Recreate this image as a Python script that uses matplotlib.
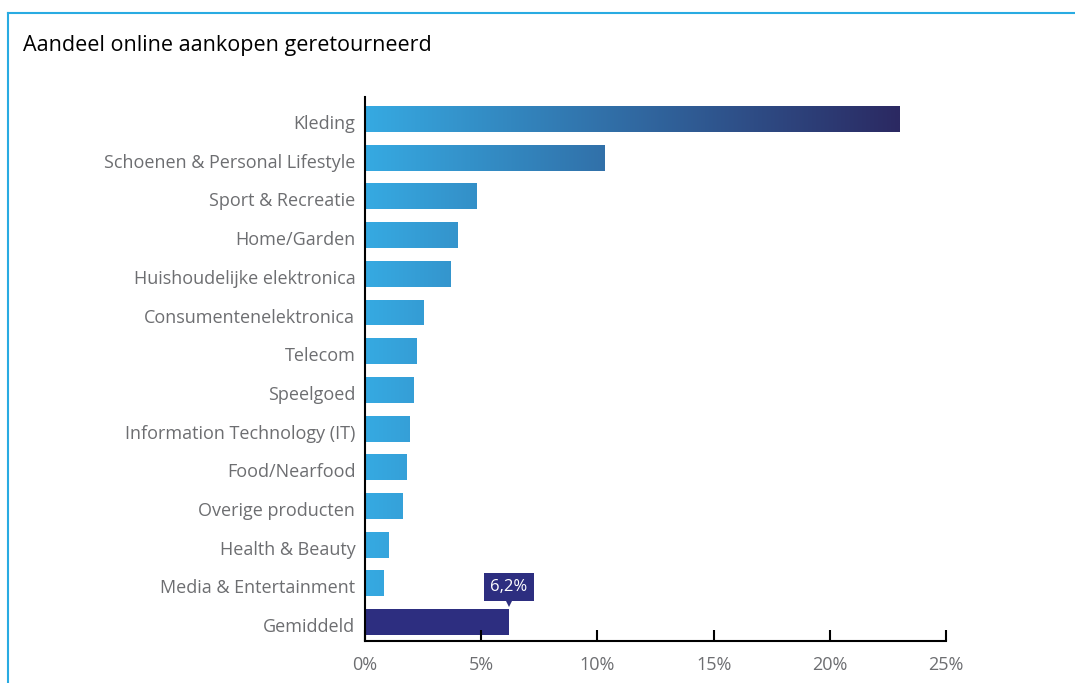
import matplotlib
matplotlib.use('Agg')
import matplotlib.pyplot as plt
import matplotlib.transforms as mtransforms
import numpy as np
from matplotlib.colors import LinearSegmentedColormap
from matplotlib.lines import Line2D

plt.rcParams['font.family'] = ['Open Sans', 'DejaVu Sans']

categories = [
    'Kleding',
    'Schoenen & Personal Lifestyle',
    'Sport & Recreatie',
    'Home/Garden',
    'Huishoudelijke elektronica',
    'Consumentenelektronica',
    'Telecom',
    'Speelgoed',
    'Information Technology (IT)',
    'Food/Nearfood',
    'Overige producten',
    'Health & Beauty',
    'Media & Entertainment',
    'Gemiddeld',
]
values = [23.0, 10.3, 4.8, 4.0, 3.7, 2.5, 2.2, 2.1, 1.9, 1.8, 1.6, 1.0, 0.8, 6.2]
average_label = '6,2%'
xticks = [0, 5, 10, 15, 20, 25]
xtick_labels = ['0%', '5%', '10%', '15%', '20%', '25%']

LABEL_GREY = '#6d6e71'
NAVY = '#2d2e80'
FRAME_BLUE = '#29abe2'

grad_cmap = LinearSegmentedColormap.from_list('blue_navy', ['#36aae2', '#2b2962'])

fig = plt.figure(figsize=(10.75, 6.83), dpi=100)
W, H = 1075, 683
ax = fig.add_axes([365 / W, 1 - 641 / H, (946 - 365) / W, (641 - 97) / H])

y = np.arange(len(categories))
bars = ax.barh(y, values, height=0.67, color='none', edgecolor='none')

# gradient runs along the x axis, from 0 to the longest bar
grad_max = max(values[:-1])
gradient = np.linspace(0, 1, 512).reshape(1, -1)
for i, bar in enumerate(bars):
    if categories[i] == 'Gemiddeld':
        bar.set_facecolor(NAVY)
        continue
    img = ax.imshow(gradient, cmap=grad_cmap, aspect='auto',
                    extent=[0, grad_max, y[i] + 0.5, y[i] - 0.5],
                    interpolation='bicubic', zorder=2)
    img.set_clip_path(bar)

ax.set_xlim(0, 25)
ax.set_ylim(len(categories) - 1 + 0.49, -0.57)

ax.set_yticks(y)
ax.set_yticklabels(categories, fontsize=13, color=LABEL_GREY)
ax.tick_params(axis='y', length=0, pad=7)
# nudge category labels a little below the bar centre
shift = mtransforms.ScaledTranslation(0, -3 / 100, fig.dpi_scale_trans)
for lbl in ax.get_yticklabels():
    lbl.set_transform(lbl.get_transform() + shift)

ax.set_xticks(xticks)
ax.set_xticklabels(xtick_labels, fontsize=13, color=LABEL_GREY)
ax.tick_params(axis='x', direction='in', length=8, width=1.5, color='black', pad=11)

for side in ['top', 'right']:
    ax.spines[side].set_visible(False)
for side in ['left', 'bottom']:
    ax.spines[side].set_linewidth(1.5)
    ax.spines[side].set_color('black')

# callout for the average
avg_idx = categories.index('Gemiddeld')
avg_val = values[avg_idx]
ax.annotate(average_label, xy=(avg_val, avg_idx - 0.34), xytext=(0, 10),
            textcoords='offset points', ha='center', va='bottom',
            fontsize=12, color='white',
            bbox=dict(boxstyle='square,pad=0.38', fc=NAVY, ec='none'))
ax.plot([avg_val], [avg_idx - 0.52], marker='v', markersize=7,
        color=NAVY, markeredgewidth=0, clip_on=False, zorder=4)

fig.text(23 / W, 1 - 46 / H, 'Aandeel online aankopen geretourneerd',
         fontsize=15.5, color='black', va='center', ha='left')

# thin frame at top and left
fig.add_artist(Line2D([8 / W, 1], [1 - 13 / H, 1 - 13 / H], color=FRAME_BLUE, lw=1.5))
fig.add_artist(Line2D([8 / W, 8 / W], [0, 1 - 13 / H], color=FRAME_BLUE, lw=1.5))

fig.savefig('out.png', dpi=100)
